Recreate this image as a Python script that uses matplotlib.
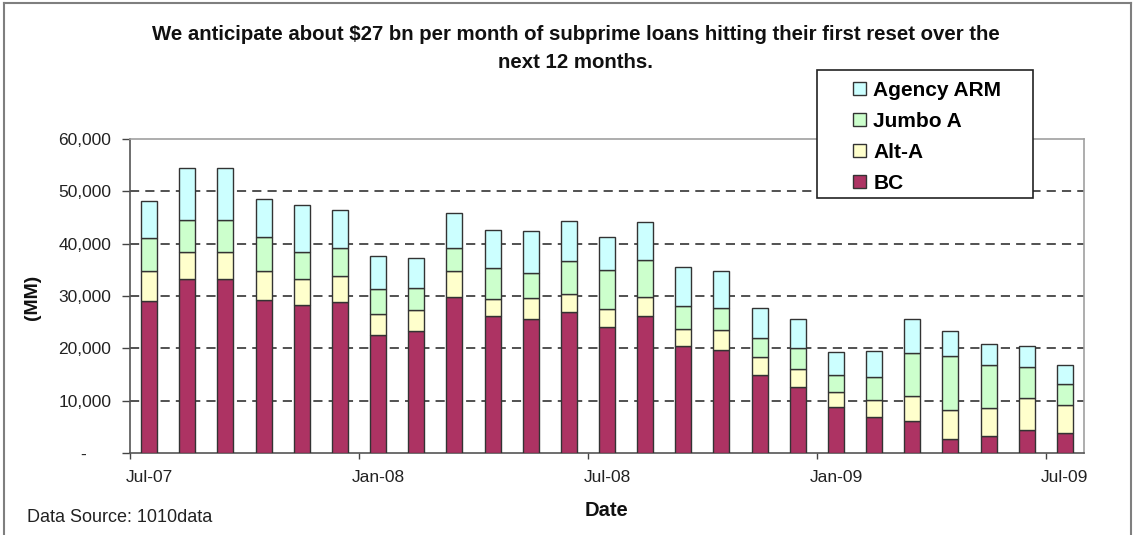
import numpy as np
import matplotlib
matplotlib.use('Agg')
import matplotlib.pyplot as plt
from matplotlib.patches import Rectangle, Patch
from matplotlib.ticker import FixedLocator, FuncFormatter

plt.rcParams['font.family'] = ['Liberation Sans', 'DejaVu Sans']

# 월별 리셋 물량 (MM), Jul-07 ~ Jul-09
months = ['Jul-07', 'Aug-07', 'Sep-07', 'Oct-07', 'Nov-07', 'Dec-07',
          'Jan-08', 'Feb-08', 'Mar-08', 'Apr-08', 'May-08', 'Jun-08',
          'Jul-08', 'Aug-08', 'Sep-08', 'Oct-08', 'Nov-08', 'Dec-08',
          'Jan-09', 'Feb-09', 'Mar-09', 'Apr-09', 'May-09', 'Jun-09', 'Jul-09']
bc = [29100, 33200, 33200, 29300, 28200, 28900, 22500, 23400, 29800, 26100,
      25700, 27000, 24100, 26100, 20500, 19600, 15000, 12600, 8700, 6900,
      6100, 2700, 3200, 4300, 3900]
alt_a = [5700, 5200, 5200, 5500, 5000, 5000, 4100, 3900, 5000, 3400,
         3900, 3400, 3400, 3700, 3200, 3900, 3400, 3400, 2900, 3200,
         4800, 5500, 5400, 6200, 5200]
jumbo_a = [6200, 6100, 6100, 6400, 5200, 5200, 4700, 4300, 4300, 5900,
           4800, 6200, 7500, 7000, 4300, 4300, 3600, 4000, 3400, 4500,
           8300, 10400, 8200, 5900, 4000]
agency_arm = [7100, 10000, 10000, 7300, 8900, 7300, 6400, 5700, 6800, 7300,
              8000, 7800, 6300, 7300, 7500, 7000, 5700, 5700, 4300, 4800,
              6400, 4800, 4100, 4100, 3700]
tick_labels = ['Jul-07', 'Jan-08', 'Jul-08', 'Jan-09', 'Jul-09']
y_ticks = [0, 10000, 20000, 30000, 40000, 50000, 60000]

series = [('BC', bc, '#AD3363'),
          ('Alt-A', alt_a, '#FFFFCC'),
          ('Jumbo A', jumbo_a, '#CCFFCC'),
          ('Agency ARM', agency_arm, '#CCFFFF')]

W, H = 1135, 535
fig = plt.figure(figsize=(W / 100, H / 100), dpi=100)
ax = fig.add_axes([130 / W, 1 - 453 / H, (1084 - 130) / W, (453 - 139) / H])

x = np.arange(len(months)) + 0.5
bottom = np.zeros(len(months))
for name, vals, color in series:
    ax.bar(x, vals, width=0.42, bottom=bottom, color=color,
           edgecolor='#333333', linewidth=1.0, zorder=3)
    bottom += np.array(vals)

# 축 설정
ax.set_xlim(0, len(months))
ax.set_ylim(0, 60000)
ax.set_yticks(y_ticks)
ax.yaxis.set_major_formatter(FuncFormatter(
    lambda v, p: '-     ' if v == 0 else f'{int(v):,}'))
for v in y_ticks[1:-1]:
    ax.axhline(v, color='#222222', linewidth=1.1, dashes=(6, 4), zorder=1)

ax.xaxis.set_major_locator(FixedLocator([0, 6, 12, 18, 24]))
ax.xaxis.set_minor_locator(FixedLocator([i * 6 + 0.5 for i in range(5)]))
ax.set_xticklabels([], minor=False)
ax.set_xticklabels(tick_labels, minor=True)
ax.tick_params(axis='x', which='major', direction='out', length=4.5,
               width=1, color='#444444')
ax.tick_params(axis='x', which='minor', length=0, pad=12,
               labelsize=12.5, labelcolor='#222222')
ax.tick_params(axis='y', direction='out', length=5.5, width=1,
               color='#444444', pad=8, labelsize=12.5, labelcolor='#222222')

for s in ['left', 'bottom']:
    ax.spines[s].set_color('#555555')
    ax.spines[s].set_linewidth(1.2)
for s in ['top', 'right']:
    ax.spines[s].set_color('#A0A0A0')
    ax.spines[s].set_linewidth(1.2)

# 텍스트
fig.text(576 / W, 1 - 35 / H, 'We anticipate about $27 bn per month of subprime loans hitting their first reset over the',
         ha='center', va='center', fontsize=14.7, fontweight='bold', color='#111111')
fig.text(576 / W, 1 - 62 / H, 'next 12 months.',
         ha='center', va='center', fontsize=14.7, fontweight='bold', color='#111111')
fig.text(33 / W, 1 - 297 / H, '(MM)', rotation=90, ha='center', va='center',
         fontsize=14, fontweight='bold', color='#111111')
fig.text(607 / W, 1 - 510 / H, 'Date', ha='center', va='center',
         fontsize=14.5, fontweight='bold', color='#111111')
fig.text(27 / W, 1 - 517 / H, 'Data Source: 1010data', ha='left', va='center',
         fontsize=13, color='#222222')

# 범례 (상자는 따로 그림)
fig.patches.append(Rectangle((817 / W, 1 - 198 / H), (1033 - 817) / W, (198 - 70) / H,
                             transform=fig.transFigure, facecolor='white',
                             edgecolor='#222222', linewidth=1.2, zorder=5))
handles = [Patch(facecolor=c, edgecolor='#333333', linewidth=1.0, label=n)
           for n, v, c in series[::-1]]
leg = fig.legend(handles=handles, loc='upper left',
                 bbox_to_anchor=(853 / W, 1 - 81 / H), frameon=False,
                 borderpad=0, borderaxespad=0, handlelength=0.62,
                 handleheight=0.62, handletextpad=0.35, labelspacing=0.57,
                 prop={'size': 15, 'weight': 'bold'})
leg.set_zorder(6)

# 바깥 테두리
frame_c = '#7F7F7F'
fig.add_artist(plt.Line2D([4 / W, 4 / W], [0, 1 - 3 / H], color=frame_c, linewidth=1.5))
fig.add_artist(plt.Line2D([4 / W, 1 - 4 / W], [1 - 3 / H, 1 - 3 / H], color=frame_c, linewidth=1.5))
fig.add_artist(plt.Line2D([1 - 4 / W, 1 - 4 / W], [0, 1 - 3 / H], color=frame_c, linewidth=1.5))

fig.savefig('out.png', dpi=100)
